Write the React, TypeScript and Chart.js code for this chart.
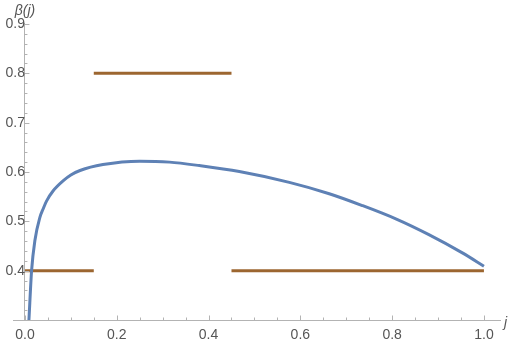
import React, { useEffect, useRef } from "react";
import { Chart, registerables } from "chart.js";

Chart.register(...registerables);

const curveJ = [0.0087, 0.0145, 0.0217, 0.0326, 0.04, 0.047, 0.0616, 0.083, 0.1, 0.12, 0.17, 0.25, 0.315, 0.38, 0.467, 0.576, 0.663, 0.735, 0.808, 0.88, 0.953, 1.0];
const curveBeta = [0.30, 0.40, 0.461, 0.508, 0.526, 0.541, 0.562, 0.582, 0.594, 0.603, 0.615, 0.622, 0.620, 0.613, 0.601, 0.579, 0.556, 0.532, 0.505, 0.473, 0.436, 0.409];

const stepStarts = [0, 0.15, 0.45];
const stepEnds = [0.15, 0.45, 1.0];
const stepValues = [0.4, 0.8, 0.4];

const xTicks = [0, 0.2, 0.4, 0.6, 0.8, 1.0];
const yTicks = [0.4, 0.5, 0.6, 0.7, 0.8, 0.9];
const xTickLabels = ["0.0", "0.2", "0.4", "0.6", "0.8", "1.0"];
const yTickLabels = ["0.4", "0.5", "0.6", "0.7", "0.8", "0.9"];

const xAxisTitle = "j";
const yAxisTitle = "β(j)";

const AXIS_COLOR = "#b3b3b3";
const LABEL_COLOR = "#555555";
const FONT = "'Liberation Sans', Arial, sans-serif";

const tickPlugin = {
  id: "mmaTicks",
  afterDraw(chart: any) {
    const ctx = chart.ctx;
    const xs = chart.scales.x;
    const ys = chart.scales.y;
    const x0 = xs.getPixelForValue(0);
    const yb = ys.getPixelForValue(ys.min);
    ctx.save();
    ctx.strokeStyle = AXIS_COLOR;
    ctx.lineWidth = 1;
    for (let i = 0; i <= 20; i++) {
      const v = i * 0.05;
      const px = Math.round(xs.getPixelForValue(v)) + 0.5;
      const major = i % 4 === 0;
      ctx.beginPath();
      ctx.moveTo(px, yb);
      ctx.lineTo(px, yb - (major ? 4.5 : 2.5));
      ctx.stroke();
    }
    for (let i = 15; i <= 45; i++) {
      const v = i * 0.02;
      if (v > ys.max + 1e-9) break;
      const py = Math.round(ys.getPixelForValue(v)) + 0.5;
      const major = i % 5 === 0;
      ctx.beginPath();
      ctx.moveTo(x0, py);
      ctx.lineTo(x0 + (major ? 4.5 : 2.5), py);
      ctx.stroke();
    }
    ctx.fillStyle = LABEL_COLOR;
    ctx.font = `italic 14px ${FONT}`;
    ctx.textAlign = "center";
    ctx.textBaseline = "alphabetic";
    ctx.fillText(yAxisTitle, x0, 15);
    ctx.textAlign = "left";
    ctx.fillText(xAxisTitle, xs.right + 4, yb + 7);
    ctx.restore();
  },
};

export default function App() {
  const ref = useRef<HTMLCanvasElement>(null);
  useEffect(() => {
    if (!ref.current) return;
    const curve = curveJ.map((j, i) => ({ x: j, y: curveBeta[i] }));
    const steps = stepStarts.map((s, i) => ({
      label: "step" + i,
      data: [
        { x: s, y: stepValues[i] },
        { x: stepEnds[i], y: stepValues[i] },
      ],
      showLine: true,
      borderColor: "#9c6630",
      backgroundColor: "#9c6630",
      borderWidth: 3,
      pointRadius: 0,
      borderCapStyle: "butt",
    }));
    const chart = new Chart(ref.current, {
      type: "scatter",
      data: {
        datasets: [
          {
            label: "beta",
            data: curve,
            showLine: true,
            borderColor: "#5e81b5",
            backgroundColor: "#5e81b5",
            borderWidth: 3,
            pointRadius: 0,
            cubicInterpolationMode: "monotone",
          } as any,
          ...(steps as any[]),
        ],
      },
      options: {
        animation: false,
        responsive: false,
        maintainAspectRatio: false,
        layout: { padding: { left: 13, right: 12, top: 23, bottom: 0 } },
        plugins: { legend: { display: false }, tooltip: { enabled: false } },
        scales: {
          x: {
            type: "linear",
            position: "bottom",
            min: -0.026,
            max: 1.035,
            grid: { display: false, drawTicks: false },
            border: { display: true, color: AXIS_COLOR, width: 1 },
            afterBuildTicks: (s: any) => {
              s.ticks = xTicks.map((v) => ({ value: v }));
            },
            afterFit: (s: any) => {
              s.height = 23;
            },
            ticks: {
              padding: 7,
              color: LABEL_COLOR,
              font: { size: 14, family: FONT },
              maxRotation: 0,
              autoSkip: false,
              callback: (v: any) => xTickLabels[xTicks.findIndex((t) => Math.abs(t - v) < 1e-9)] ?? "",
            },
          },
          y: {
            type: "linear",
            position: { x: 0 } as any,
            min: 0.3,
            max: 0.902,
            grid: { display: false, drawTicks: false },
            border: { display: true, color: AXIS_COLOR, width: 1 },
            afterBuildTicks: (s: any) => {
              s.ticks = yTicks.map((v) => ({ value: v }));
            },
            ticks: {
              padding: 5,
              color: LABEL_COLOR,
              font: { size: 14, family: FONT },
              autoSkip: false,
              callback: (v: any) => yTickLabels[yTicks.findIndex((t) => Math.abs(t - v) < 1e-9)] ?? "",
            },
          },
        },
      },
      plugins: [tickPlugin],
    });
    return () => chart.destroy();
  }, []);
  return (
    <div style={{ position: "fixed", left: 0, top: 0, width: 512, height: 343, background: "#fff" }}>
      <canvas ref={ref} width={512} height={343} style={{ width: 512, height: 343 }} />
    </div>
  );
}
